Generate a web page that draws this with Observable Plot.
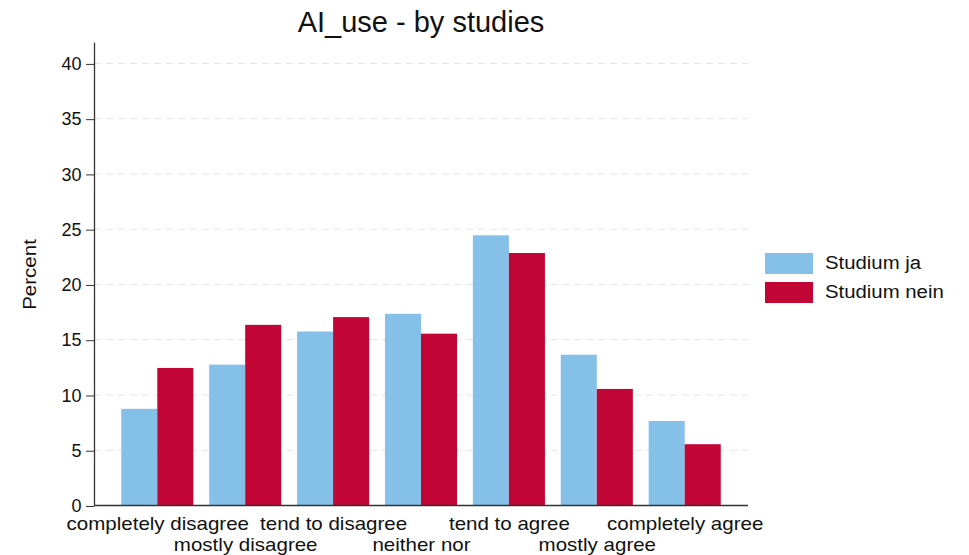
<!DOCTYPE html>
<html>
<head>
<meta charset="utf-8">
<script src="https://cdn.jsdelivr.net/npm/d3@7"></script>
<script src="https://cdn.jsdelivr.net/npm/@observablehq/plot@0.6"></script>
<style>
  html, body { margin: 0; padding: 0; background: #fff; }
  #wrap { position: relative; width: 969px; height: 555px; font-family: "Liberation Sans", Arial, Helvetica, sans-serif; }
  #title { position: absolute; left: 94px; width: 654px; top: 8px; line-height: 29px; text-align: center; font-size: 29px; color: #111; }
  #legend { position: absolute; left: 765px; top: 249px; font-size: 18px; color: #111; }
  .item { display: flex; align-items: center; height: 29px; }
  .sw { width: 48px; height: 21px; margin-right: 12px; }
  .lab { display: inline-block; transform: scaleX(1.13); transform-origin: left center; }
</style>
</head>
<body>
<div id="wrap">
  <div id="chart"></div>
  <div id="title">AI_use - by studies</div>
  <div id="legend"></div>
</div>
<script>
const categories = ["completely disagree", "mostly disagree", "tend to disagree", "neither nor", "tend to agree", "mostly agree", "completely agree"];
const studiumJa = [8.7, 12.7, 15.7, 17.3, 24.4, 13.6, 7.6];
const studiumNein = [12.4, 16.3, 17.0, 15.5, 22.8, 10.5, 5.5];
const seriesNames = ["Studium ja", "Studium nein"];
const seriesColors = ["#85c0e9", "#c10534"];
const yTicks = [0, 5, 10, 15, 20, 25, 30, 35, 40];
const yLabel = "Percent";

const dataJa = categories.map((c, i) => ({category: c, value: studiumJa[i], series: seriesNames[0]}));
const dataNein = categories.map((c, i) => ({category: c, value: studiumNein[i], series: seriesNames[1]}));
const rowOne = categories.filter((c, i) => i % 2 === 0);
const rowTwo = categories.filter((c, i) => i % 2 === 1);

const font = "'Liberation Sans', Arial, Helvetica, sans-serif";
// band geometry: 654px range, 7 bands
const halfBand = 654 / (7 - 0.18 + 2 * 0.31) * (1 - 0.18) / 2;

const chart = Plot.plot({
  width: 969,
  height: 555,
  marginLeft: 94,
  marginRight: 221,
  marginTop: 43,
  marginBottom: 50,
  style: {fontFamily: font, fontSize: "18px", color: "#111", background: "#fff"},
  x: {domain: categories, paddingInner: 0.18, paddingOuter: 0.31, round: false, axis: null},
  y: {domain: [0, 41.8], axis: null},
  color: {domain: seriesNames, range: seriesColors},
  marks: [
    Plot.gridY(yTicks.filter(t => t > 0), {stroke: "#e4e4e4", strokeOpacity: 1, strokeDasharray: "7,5", strokeWidth: 1}),
    Plot.barY(dataJa, {x: "category", y: "value", fill: "series", insetRight: halfBand}),
    Plot.barY(dataNein, {x: "category", y: "value", fill: "series", insetLeft: halfBand}),
    Plot.axisY({ticks: yTicks, tickSize: 8, tickPadding: 5, stroke: "#333", fontSize: 18, label: null, dy: 1}),
    Plot.axisX({ticks: rowOne, tickSize: 0, tickPadding: 12, fontSize: 18, label: null}),
    Plot.axisX({ticks: rowTwo, tickSize: 0, tickPadding: 33, fontSize: 18, label: null}),
    Plot.ruleY([0], {stroke: "#333", strokeWidth: 1.3}),
    Plot.frame({anchor: "left", stroke: "#333", strokeWidth: 1.3}),
    Plot.text([yLabel], {frameAnchor: "left", textAnchor: "middle", dx: -64, rotate: -90, fontSize: 18, fill: "#111"})
  ]
});
// widen the word labels horizontally, as in the reference rendering
chart.querySelectorAll('g[aria-label="x-axis tick label"] text, g[aria-label="text"] text').forEach(t => {
  const tr = t.getAttribute("transform");
  if (tr) t.setAttribute("transform", tr + " scale(1.14,1)");
});
document.getElementById("chart").appendChild(chart);

const legend = document.getElementById("legend");
seriesNames.forEach((name, i) => {
  const item = document.createElement("div");
  item.className = "item";
  const sw = document.createElement("div");
  sw.className = "sw";
  sw.style.background = seriesColors[i];
  const label = document.createElement("span");
  label.className = "lab";
  label.textContent = name;
  item.appendChild(sw);
  item.appendChild(label);
  legend.appendChild(item);
});
</script>
</body>
</html>
